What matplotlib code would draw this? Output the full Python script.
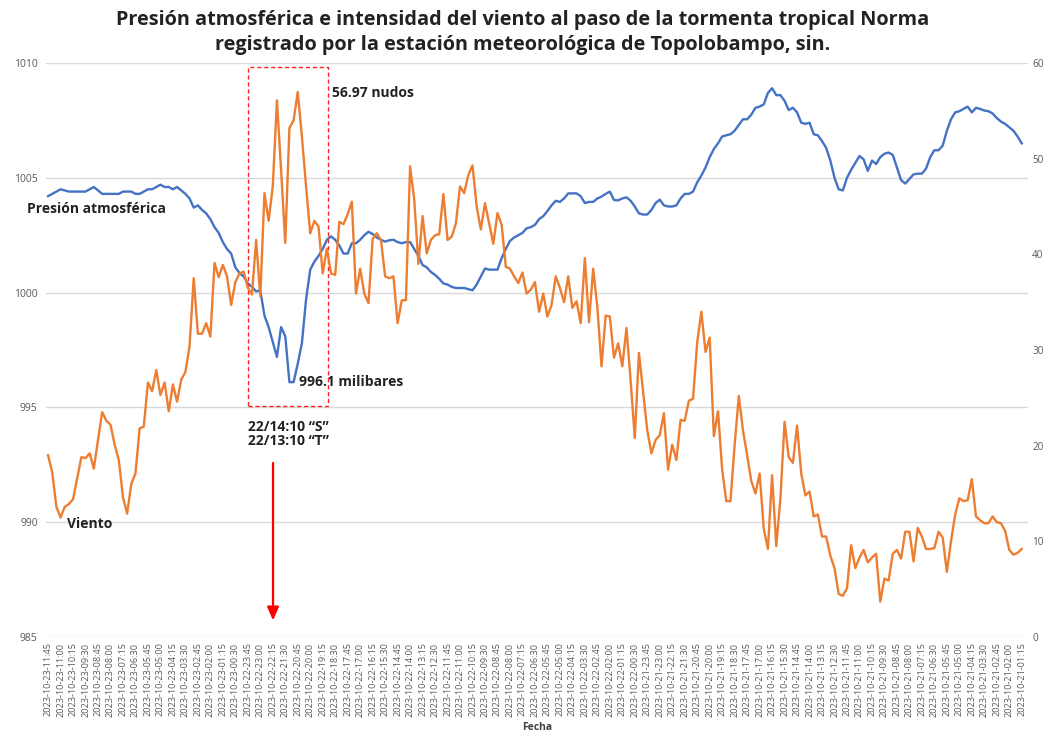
import numpy as np
import pandas as pd
import matplotlib
matplotlib.use("Agg")
import matplotlib.pyplot as plt
from matplotlib.patches import Rectangle

plt.rcParams['font.family'] = ['Open Sans', 'DejaVu Sans']

# registros cada 15 minutos, del más reciente al más antiguo
fechas = pd.date_range('2023-10-21 01:15', '2023-10-23 11:45', freq='15min')[::-1]
etiquetas = [f.strftime('%Y-%m-%d-%H:%M') for f in fechas]

presion = [
    1004.2, 1004.3, 1004.4, 1004.5, 1004.45, 1004.4, 1004.4, 1004.4, 1004.4, 1004.4,
    1004.5, 1004.6, 1004.45, 1004.3, 1004.3, 1004.3, 1004.3, 1004.3, 1004.4, 1004.4,
    1004.4, 1004.3, 1004.3, 1004.4, 1004.5, 1004.5, 1004.6, 1004.7, 1004.6, 1004.6,
    1004.5, 1004.6, 1004.45, 1004.3, 1004.1, 1003.7, 1003.8, 1003.6, 1003.45, 1003.2,
    1002.85, 1002.6, 1002.2, 1001.9, 1001.7, 1001.1, 1000.85, 1000.7, 1000.4, 1000.25,
    1000.05, 1000.1, 999.0, 998.5, 997.85, 997.2, 998.5, 998.1, 996.1, 996.1,
    996.9, 997.8, 999.7, 1001.0, 1001.35, 1001.6, 1001.9, 1002.3, 1002.45, 1002.3,
    1002.05, 1001.7, 1001.7, 1002.15, 1002.15, 1002.3, 1002.5, 1002.65, 1002.55, 1002.4,
    1002.3, 1002.22, 1002.28, 1002.3, 1002.2, 1002.15, 1002.2, 1002.2, 1001.9, 1001.6,
    1001.2, 1001.1, 1000.9, 1000.77, 1000.6, 1000.4, 1000.35, 1000.25, 1000.2, 1000.2,
    1000.2, 1000.15, 1000.1, 1000.35, 1000.7, 1001.05, 1001.0, 1001.0, 1001.0, 1001.5,
    1001.9, 1002.25, 1002.4, 1002.5, 1002.6, 1002.8, 1002.85, 1002.95, 1003.2, 1003.33,
    1003.55, 1003.8, 1004.0, 1003.95, 1004.1, 1004.32, 1004.32, 1004.32, 1004.2, 1003.9,
    1003.95, 1003.95, 1004.1, 1004.18, 1004.3, 1004.4, 1004.03, 1004.02, 1004.1, 1004.15,
    1004.0, 1003.75, 1003.45, 1003.4, 1003.4, 1003.6, 1003.9, 1004.05, 1003.8, 1003.75,
    1003.75, 1003.8, 1004.1, 1004.3, 1004.3, 1004.4, 1004.8, 1005.1, 1005.45, 1005.9,
    1006.25, 1006.5, 1006.8, 1006.85, 1006.9, 1007.05, 1007.3, 1007.55, 1007.55, 1007.75,
    1008.05, 1008.1, 1008.2, 1008.7, 1008.9, 1008.6, 1008.6, 1008.35, 1007.95, 1008.05,
    1007.85, 1007.4, 1007.35, 1007.4, 1006.9, 1006.85, 1006.6, 1006.3, 1005.75, 1005.0,
    1004.5, 1004.45, 1005.0, 1005.35, 1005.65, 1005.95, 1005.8, 1005.3, 1005.75, 1005.6,
    1005.9, 1006.05, 1006.1, 1006.0, 1005.45, 1004.9, 1004.75, 1004.95, 1005.15, 1005.18,
    1005.18, 1005.4, 1005.9, 1006.2, 1006.2, 1006.4, 1007.05, 1007.55, 1007.85, 1007.9,
    1008.0, 1008.1, 1007.85, 1008.05, 1008.0, 1007.93, 1007.9, 1007.8, 1007.6, 1007.45,
    1007.35, 1007.2, 1007.05, 1006.8, 1006.5,
]

viento = [
    19.0, 17.2, 13.6, 12.5, 13.6, 13.9, 14.4, 16.6, 18.8, 18.7,
    19.2, 17.6, 20.6, 23.5, 22.6, 22.2, 20.1, 18.5, 14.6, 12.9,
    16.0, 17.1, 21.8, 22.0, 26.6, 25.7, 27.9, 25.3, 26.6, 23.6,
    26.4, 24.6, 26.9, 27.7, 30.4, 37.5, 31.7, 31.7, 32.8, 31.4,
    39.1, 37.6, 38.9, 37.7, 34.7, 37.1, 38.0, 38.2, 36.5, 35.8,
    41.5, 35.6, 46.4, 43.5, 47.1, 56.1, 48.8, 41.2, 53.2, 54.0,
    56.97, 52.3, 47.1, 42.2, 43.5, 42.9, 38.0, 40.6, 38.0, 37.85,
    43.4, 43.15, 44.2, 45.5, 35.9, 38.5, 35.9, 34.9, 41.6, 42.2,
    41.5, 37.7, 37.5, 37.7, 32.8, 35.2, 35.2, 49.2, 45.7, 39.0,
    44.0, 40.1, 41.5, 42.0, 42.1, 46.3, 41.5, 41.85, 43.2, 47.1,
    46.4, 48.3, 49.3, 45.0, 42.6, 45.35, 43.2, 41.1, 44.3, 43.1,
    38.7, 38.5, 37.7, 37.0, 38.1, 35.9, 36.3, 37.1, 34.0, 35.9,
    33.5, 34.7, 37.7, 36.5, 35.0, 37.7, 34.4, 35.1, 32.8, 39.6,
    32.9, 38.5, 34.5, 28.3, 33.6, 33.5, 29.2, 30.7, 28.3, 32.3,
    26.8, 20.8, 29.7, 25.7, 21.6, 19.2, 20.6, 21.1, 23.4, 17.5,
    20.1, 18.5, 22.7, 22.6, 24.7, 24.9, 30.8, 34.0, 29.8, 31.3,
    21.0, 23.6, 17.5, 14.2, 14.2, 20.1, 25.2, 21.6, 19.0, 16.3,
    15.0, 17.1, 11.3, 9.2, 16.9, 9.5, 14.5, 22.5, 18.8, 18.2,
    22.1, 17.1, 14.8, 15.2, 12.6, 12.8, 10.5, 10.5, 8.5, 7.2,
    4.5, 4.3, 5.1, 9.6, 7.2, 8.3, 9.1, 7.8, 8.3, 8.7,
    3.7, 6.1, 5.9, 8.7, 9.1, 8.2, 11.0, 11.0, 7.9, 11.4,
    10.5, 9.2, 9.2, 9.3, 11.0, 10.4, 6.8, 10.0, 12.8, 14.5,
    14.2, 14.3, 16.5, 12.6, 12.2, 11.9, 11.9, 12.6, 12.0, 11.9,
    11.1, 9.1, 8.6, 8.8, 9.2,
]

azul = '#4472C4'
naranja = '#ED7D31'
gris = '#595959'

x = np.arange(len(presion))
i_min = int(np.argmin(presion))
i_max = int(np.argmax(viento))

fig = plt.figure(figsize=(10.46, 7.42), dpi=100)
ax = fig.add_axes([46 / 1046, 1 - 637 / 742, 982 / 1046, 574 / 742])
ax2 = ax.twinx()

ax.plot(x, presion, color=azul, lw=1.7, zorder=3)
ax2.plot(x, viento, color=naranja, lw=1.7, zorder=3)

ax.set_xlim(-0.5, 235.5)
ax.set_ylim(985, 1010)
ax.set_yticks(np.arange(985, 1011, 5))
ax2.set_ylim(0, 60)
ax2.set_yticks(np.arange(0, 61, 10))

ax.set_xticks(x[::3])
ax.set_xticklabels(etiquetas[::3], rotation=90, fontsize=6.6, color=gris)
ax.grid(axis='y', color='#D9D9D9', lw=1)
ax.set_axisbelow(True)
for a in (ax, ax2):
    for s in a.spines.values():
        s.set_visible(False)
    a.tick_params(length=0)
ax.tick_params(axis='y', labelsize=7.5, labelcolor=gris, pad=6)
ax.tick_params(axis='x', pad=4)
ax2.tick_params(axis='y', labelsize=7.2, labelcolor=gris, pad=3)

ax.set_xlabel('Fecha', fontsize=7.5, fontweight='bold', color='#404040', labelpad=4)

fig.suptitle('Presión atmosférica e intensidad del viento al paso de la tormenta tropical Norma\n'
             'registrado por la estación meteorológica de Topolobampo, sin.',
             y=0.986, fontsize=14.3, fontweight='bold', color='#222222', linespacing=1.3)

# textos sobre las series
ax.text(-5, 1003.64, 'Presión atmosférica', fontsize=10, fontweight='bold',
        va='center', ha='left', color='#222222')
ax.text(4.6, 989.92, 'Viento', fontsize=10, fontweight='bold',
        va='center', ha='left', color='#222222')
ax.text(i_max + 8.2, 1008.69, f'{viento[i_max]:.2f} nudos', fontsize=10,
        fontweight='bold', va='center', ha='left', color='#222222')
ax.text(i_min + 2.3, presion[i_min], f'{presion[i_min]:.1f} milibares', fontsize=10,
        fontweight='bold', va='center', ha='left', color='#222222')

# recuadro del paso de la tormenta
ax.add_patch(Rectangle((48.05, 995.06), 19.25, 14.77, fill=False, ec='#FF2020',
                       lw=1, ls=(0, (3, 2)), zorder=4, clip_on=False))
ax.text(57.7, 993.85, '22/14:10 “S”\n22/13:10 “T”', fontsize=10, fontweight='bold',
        ha='center', va='center', color='#222222', linespacing=1.0)
ax.annotate('', xy=(54.06, 985.6), xytext=(54.06, 992.7),
            arrowprops=dict(arrowstyle='-|>,head_width=0.35,head_length=0.8',
                            color='#FF0000', lw=1.6))

fig.savefig('out.png', dpi=100)
